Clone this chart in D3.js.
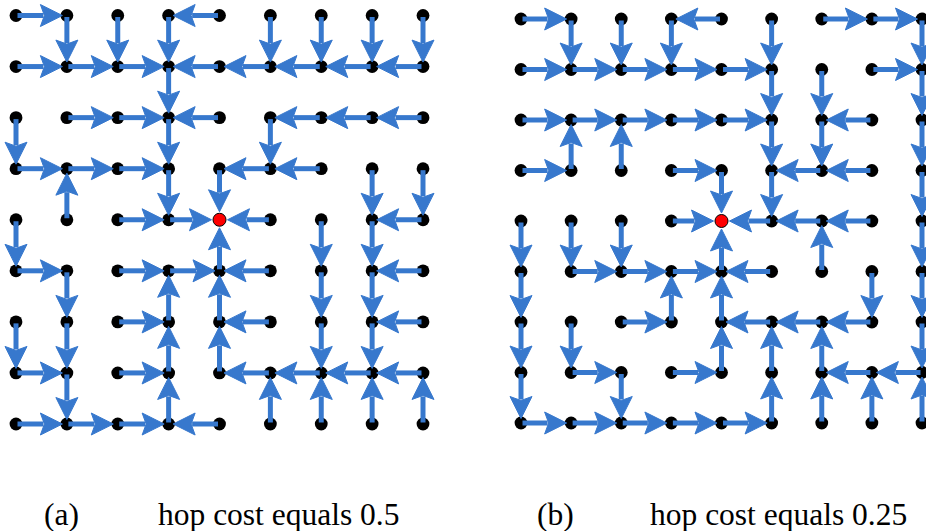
<!DOCTYPE html>
<html>
<head>
<meta charset="utf-8">
<script src="https://cdn.jsdelivr.net/npm/d3@7/dist/d3.min.js"></script>
<style>
  html, body { margin: 0; padding: 0; background: #fff; }
  svg { display: block; }
  text { font-family: "Liberation Serif", "Times New Roman", serif; fill: #000; }
</style>
</head>
<body>
<svg id="chart" width="926" height="531"></svg>
<script>
// Grid indices (9 x 9 nodes per panel)
const gridIndex = [0, 1, 2, 3, 4, 5, 6, 7, 8];

// Parent direction of every node, one string per row (top to bottom).
// R = right, L = left, U = up, D = down, * = sink node.
const treeA = [
  "RDDDLDDDD",
  "RRRDLLLLL",
  "DRRDLDLLL",
  "RRRDDLLDD",
  "DURR*LDDL",
  "RDRRULDDL",
  "DDRUULDDL",
  "RDRUULLLL",
  "RRRULUUUU"
];
const treeB = [
  "RDDDLDRRD",
  "RRRRRDDRD",
  "RRRRRDDLD",
  "RUURDDLLD",
  "DDDR*LLLD",
  "DRRRULUDD",
  "DDRUULLLD",
  "DRDRUUULL",
  "RRRRRUUUU"
];

const panelLabels = ["(a)", "(b)"];
const panelTitles = ["hop cost equals 0.5", "hop cost equals 0.25"];

const svg = d3.select("#chart");
const arrowColor = "#3778cd";

const panels = [
  { tree: treeA, x: d3.scaleLinear().domain([0, 8]).range([16, 423]),
                 y: d3.scaleLinear().domain([0, 8]).range([15.5, 424]),
    labelX: 44, titleX: 158 },
  { tree: treeB, x: d3.scaleLinear().domain([0, 8]).range([521, 922]),
                 y: d3.scaleLinear().domain([0, 8]).range([19, 423]),
    labelX: 537, titleX: 650 }
];

const step = { R: [1, 0], L: [-1, 0], U: [0, -1], D: [0, 1] };

// Arrow geometry
const shaftW = 5, headLen = 22, headHalf = 11, notch = 4;

panels.forEach((p, pi) => {
  const g = svg.append("g");
  const nodes = [];
  const edges = [];
  let sink = null;
  gridIndex.forEach(r => gridIndex.forEach(c => {
    const d = p.tree[r][c];
    nodes.push({ c, r });
    if (d === "*") sink = { c, r };
    else edges.push({ c0: c, r0: r, c1: c + step[d][0], r1: r + step[d][1] });
  }));

  // nodes
  g.append("g").selectAll("circle")
    .data(nodes.filter(n => !(n.c === sink.c && n.r === sink.r)))
    .join("circle")
    .attr("cx", d => p.x(d.c))
    .attr("cy", d => p.y(d.r))
    .attr("r", 6.4)
    .attr("fill", "#000");

  // arrows from each node to its parent
  const ag = g.append("g");
  edges.forEach(e => {
    const x0 = p.x(e.c0), y0 = p.y(e.r0);
    const x1 = p.x(e.c1), y1 = p.y(e.r1);
    const dx = x1 - x0, dy = y1 - y0;
    const len = Math.hypot(dx, dy);
    const ux = dx / len, uy = dy / len;
    const nx = -uy, ny = ux;
    const toSink = (e.c1 === sink.c && e.r1 === sink.r);
    const gap = toSink ? 8 : 4.5;
    const tx = x1 - ux * gap, ty = y1 - uy * gap;
    const bx = tx - ux * headLen, by = ty - uy * headLen;
    const mx = tx - ux * (headLen - notch), my = ty - uy * (headLen - notch);
    ag.append("line")
      .attr("x1", x0 + ux * 1.5).attr("y1", y0 + uy * 1.5)
      .attr("x2", mx - ux * 1).attr("y2", my - uy * 1)
      .attr("stroke", arrowColor)
      .attr("stroke-width", shaftW);
    const path = d3.path();
    path.moveTo(tx, ty);
    path.lineTo(bx + nx * headHalf, by + ny * headHalf);
    path.lineTo(mx, my);
    path.lineTo(bx - nx * headHalf, by - ny * headHalf);
    path.closePath();
    ag.append("path").attr("d", path.toString())
      .attr("fill", arrowColor)
      .attr("stroke", arrowColor)
      .attr("stroke-width", 1)
      .attr("stroke-linejoin", "miter");
  });

  // sink node on top
  g.append("circle")
    .attr("cx", p.x(sink.c))
    .attr("cy", p.y(sink.r))
    .attr("r", 6.5)
    .attr("fill", "#ff0000")
    .attr("stroke", "#000")
    .attr("stroke-width", 1);

  // caption
  svg.append("text").attr("x", p.labelX).attr("y", 525)
    .attr("font-size", 31.5).text(panelLabels[pi]);
  svg.append("text").attr("x", p.titleX).attr("y", 525)
    .attr("font-size", 31.5).text(panelTitles[pi]);
});
</script>
</body>
</html>
